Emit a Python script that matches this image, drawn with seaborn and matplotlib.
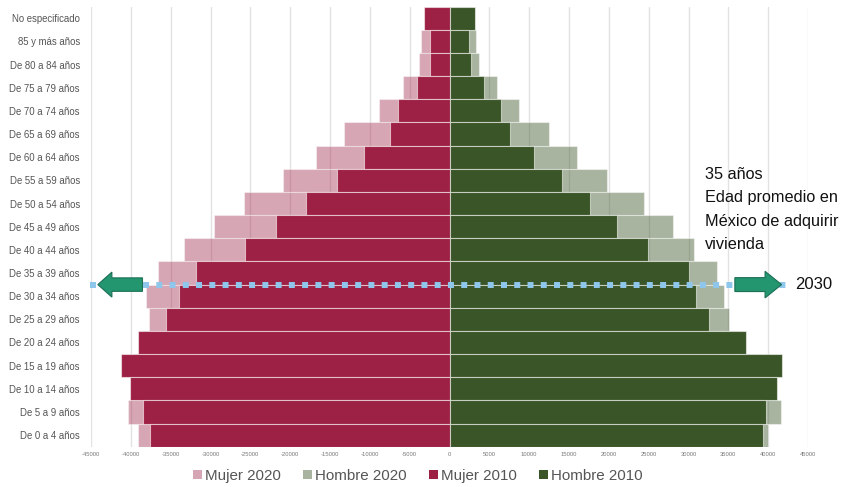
import matplotlib
matplotlib.use("Agg")
import matplotlib.pyplot as plt
from matplotlib.patches import Patch, FancyArrow
from matplotlib.ticker import FuncFormatter, MultipleLocator
import seaborn as sns

# Age groups, top to bottom
grupos = [
    "No especificado", "85 y más años", "De 80 a 84 años", "De 75 a 79 años",
    "De 70 a 74 años", "De 65 a 69 años", "De 60 a 64 años", "De 55 a 59 años",
    "De 50 a 54 años", "De 45 a 49 años", "De 40 a 44 años", "De 35 a 39 años",
    "De 30 a 34 años", "De 25 a 29 años", "De 20 a 24 años", "De 15 a 19 años",
    "De 10 a 14 años", "De 5 a 9 años", "De 0 a 4 años",
]

mujer_2020 = [3000, 3610, 3830, 5870, 8850, 13240, 16750, 20890, 25820, 29550,
              33350, 36610, 38120, 37700, 38600, 39800, 39300, 40340, 39050]
hombre_2020 = [3000, 3370, 3740, 5960, 8680, 12520, 16000, 19800, 24370, 28000,
               30680, 33520, 34480, 35030, 36500, 40200, 40400, 41550, 39920]
mujer_2010 = [3200, 2450, 2450, 4040, 6420, 7470, 10690, 14150, 18010, 21770,
              25620, 31770, 33940, 35610, 39120, 41180, 40130, 38490, 37580]
hombre_2010 = [3160, 2490, 2740, 4290, 6460, 7590, 10640, 14150, 17670, 20980,
               24870, 30050, 30970, 32560, 37200, 41680, 41090, 39710, 39330]

etiquetas = ["Mujer 2020", "Hombre 2020", "Mujer 2010", "Hombre 2010"]

rojo = "#9d2144"
verde = "#3a5527"
flecha_color = "#23956f"
linea_color = "#8ec6ec"

sns.set_theme(style="white")
plt.rcParams["font.family"] = ["Liberation Sans", "DejaVu Sans"]

fig = plt.figure(figsize=(8.41, 4.87), dpi=100)
ax = fig.add_axes([91 / 841, 40.3 / 487, 717 / 841, 440 / 487])

borde = (1, 1, 1, 0.55)
comunes = dict(order=grupos, orient="y", width=1, errorbar=None, saturation=1,
               ax=ax, edgecolor=borde, linewidth=0.8)

# 2020 drawn behind, translucent; 2010 opaque on top
sns.barplot(x=[-v for v in mujer_2020], y=grupos, color=rojo, alpha=0.4, **comunes)
sns.barplot(x=hombre_2020, y=grupos, color=verde, alpha=0.44, **comunes)
sns.barplot(x=[-v for v in mujer_2010], y=grupos, color=rojo, **comunes)
sns.barplot(x=hombre_2010, y=grupos, color=verde, **comunes)

ax.set_xlim(-45000, 45000)
ax.set_ylim(len(grupos) - 0.5, -0.5)
ax.xaxis.set_major_locator(MultipleLocator(5000))
ax.xaxis.set_major_formatter(FuncFormatter(lambda v, p: f"{int(round(v))}"))
ax.set_axisbelow(True)
ax.xaxis.grid(True, color="#e2e2e2", linewidth=1)
ax.yaxis.grid(False)
for s in ax.spines.values():
    s.set_visible(False)
ax.set_xlabel("")
ax.set_ylabel("")
ax.tick_params(axis="x", labelsize=4.2, colors="#777777", length=0, pad=4)
ax.tick_params(axis="y", labelsize=6.9, colors="#555555", length=0, pad=8)

# Reference line at age 35 with arrows
y_ref = 11.5
ax.plot([-45150, 42950], [y_ref, y_ref], color=linea_color, linewidth=4.3,
        linestyle=(0, (1, 1.22)), dash_capstyle="butt", clip_on=False, zorder=5)

ax.add_patch(FancyArrow(-38540, y_ref, -5600, 0, width=0.58, head_width=1.08,
                        head_length=1760, length_includes_head=True,
                        facecolor=flecha_color, edgecolor="#1c6e55", linewidth=0.8,
                        clip_on=False, zorder=6))
ax.add_patch(FancyArrow(35820, y_ref, 5860, 0, width=0.6, head_width=1.15,
                        head_length=2070, length_includes_head=True,
                        facecolor=flecha_color, edgecolor="#1c6e55", linewidth=0.8,
                        clip_on=False, zorder=6))

ax.text(43350, y_ref, "2030", fontsize=12, va="center", ha="left",
        color="#111111", clip_on=False, zorder=7)
ax.text(32050, 6.42, "35 años\nEdad promedio en\nMéxico de adquirir\nvivienda",
        fontsize=11.7, va="top", ha="left", color="#111111", linespacing=1.7,
        clip_on=False, zorder=7)

colores_leyenda = [(rojo, 0.4), (verde, 0.44), (rojo, 1), (verde, 1)]
handles = [Patch(facecolor=c, alpha=a, edgecolor="none") for c, a in colores_leyenda]
fig.legend(handles, etiquetas, loc="center", bbox_to_anchor=(418 / 841, 1 - 476 / 487),
           ncol=4, frameon=False, fontsize=10.9, labelcolor="#555555",
           handlelength=0.6, handleheight=0.6, handletextpad=0.2, columnspacing=1.45)

fig.savefig("out.png", dpi=100)
